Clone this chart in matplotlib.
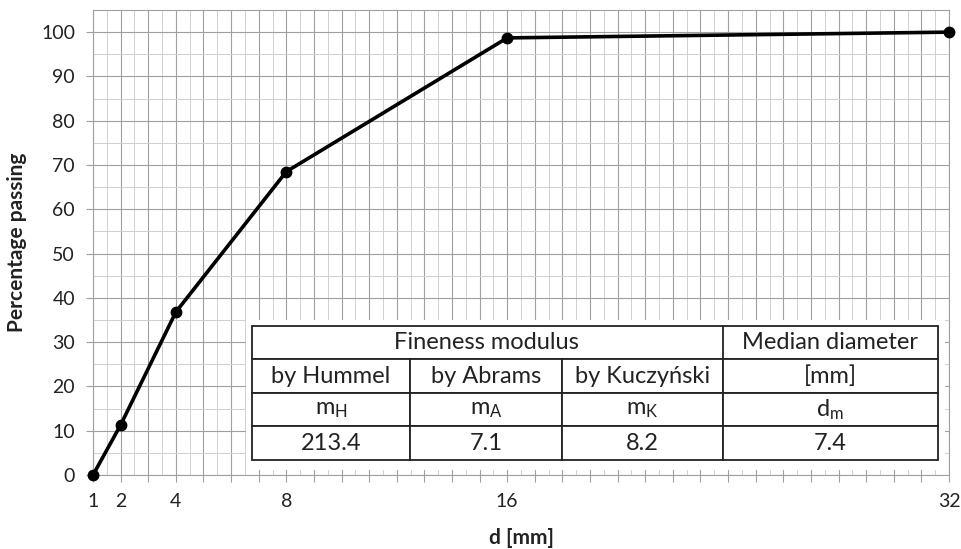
import matplotlib.pyplot as plt
from matplotlib.ticker import MultipleLocator
from matplotlib.patches import Rectangle
from matplotlib.table import Table

plt.rcParams['font.family'] = ['Lato', 'DejaVu Sans']
plt.rcParams['mathtext.default'] = 'regular'

# grading curve
d_mm = [1, 2, 4, 8, 16, 32]
passing = [0, 11.3, 36.8, 68.5, 98.7, 100]
x_labels = ['1', '2', '4', '8', '16', '32']

# table contents
header = ['', 'Fineness modulus', '', 'Median diameter']
methods = ['by Hummel', 'by Abrams', 'by Kuczyński', '[mm]']
symbols = ['m$_H$', 'm$_A$', 'm$_K$', 'd$_m$']
values = ['213.4', '7.1', '8.2', '7.4']
col_w = [158, 152, 161, 215]

fig = plt.figure(figsize=(9.61, 5.49), dpi=100)
ax = fig.add_axes([0.0968, 0.1348, 0.8907, 0.847])

ax.set_xlim(1, 32)
ax.set_ylim(0, 105)

ax.xaxis.set_major_locator(MultipleLocator(1))
ax.xaxis.set_minor_locator(MultipleLocator(0.5))
ax.yaxis.set_minor_locator(MultipleLocator(5))
ax.set_yticks(range(0, 101, 10))
ax.set_xticklabels([str(int(v)) if str(int(v)) in x_labels else '' for v in ax.get_xticks()])

ax.set_axisbelow(True)
ax.grid(which='major', color='#a0a0a0', lw=0.8)
ax.grid(which='minor', color='#d0d0d0', lw=0.7)
for s in ax.spines.values():
    s.set_color('#a0a0a0')
    s.set_linewidth(0.8)
ax.tick_params(which='major', length=5, width=0.8, color='#a0a0a0', labelsize=14, labelcolor='#222222')
ax.tick_params(axis='y', pad=8)
ax.tick_params(axis='x', pad=8)
ax.tick_params(which='minor', length=0)

ax.plot(d_mm, passing, color='black', lw=2.6, marker='o', ms=7.5, zorder=5, clip_on=False)

ax.set_xlabel('d [mm]', fontsize=15, fontweight='bold', labelpad=13, color='#222222')
ax.set_ylabel('Percentage passing', fontsize=15, fontweight='bold', labelpad=10, color='#222222')

# white panel behind the table
ax.add_patch(Rectangle((0.1787, 0.0108), 0.8166, 0.3225, transform=ax.transAxes,
                       facecolor='white', edgecolor='none', zorder=2))

tab = Table(ax, bbox=[0.1857, 0.0323, 0.8014, 0.2881])
tot = sum(col_w)
rows = [header, methods, symbols, values]
for r, row in enumerate(rows):
    for c, txt in enumerate(row):
        edges = 'closed'
        if r == 0 and c == 0:
            edges = 'BLT'
        elif r == 0 and c in (1, 2):
            edges = 'BT'
        cell = tab.add_cell(r, c, col_w[c] / tot, 0.25, text=txt, loc='center',
                            facecolor='white', edgecolor='#222222')
        cell.visible_edges = edges
        cell.set_linewidth(1.3)
tab.auto_set_font_size(False)
tab.set_fontsize(17)
for cell in tab.get_celld().values():
    cell.get_text().set_color('#222222')
tab.set_zorder(6)
ax.add_table(tab)

fig.savefig('out.png', dpi=100)
